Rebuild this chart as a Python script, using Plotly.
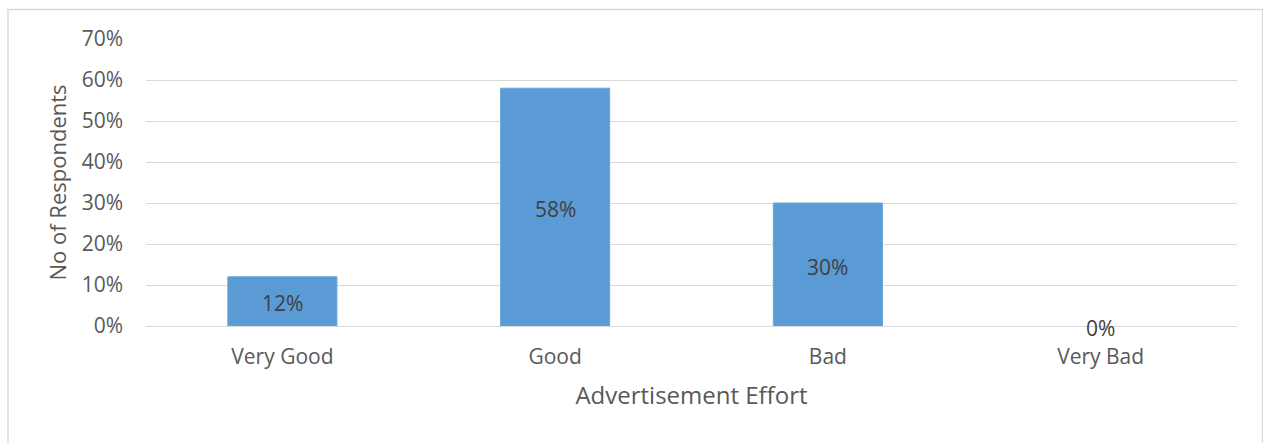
import plotly.graph_objects as go

categories = ["Very Good", "Good", "Bad", "Very Bad"]
shares = [0.12, 0.58, 0.30, 0.0]
labels = ["12%", "58%", "30%", "0%"]

BAR = "#5B9BD5"
GRID = "#D9D9D9"
TICK = "#595959"
FONT = "'Open Sans', Calibri, sans-serif"

fig = go.Figure()
fig.add_trace(go.Bar(
    x=categories, y=shares, width=0.4,
    marker=dict(color=BAR, line=dict(color="#6AA5DA", width=[1 if v > 0 else 0 for v in shares])),
    hoverinfo="skip", showlegend=False,
))

# value labels centred on each bar (zero bars sit on the baseline)
for cat, v, lab in zip(categories, shares, labels):
    fig.add_annotation(
        x=cat, y=v / 2, text=lab, showarrow=False, yshift=-2,
        font=dict(family=FONT, size=21, color="#404040"),
    )

fig.update_layout(
    width=1263, height=443,
    margin=dict(l=146, r=26, t=39, b=116.5),
    paper_bgcolor="white", plot_bgcolor="white",
    font=dict(family=FONT, size=21, color=TICK),
    xaxis=dict(
        title=dict(text="Advertisement Effort", font=dict(size=24, color=TICK), standoff=18),
        showgrid=False, showline=False, zeroline=False, ticks="",
        ticklabelstandoff=16,
    ),
    yaxis=dict(
        title=dict(text="No of Respondents", font=dict(size=22, color=TICK), standoff=8),
        range=[0, 0.70], dtick=0.10, tickformat=".0%",
        showgrid=True, gridcolor=GRID, gridwidth=1,
        zeroline=True, zerolinecolor=GRID, zerolinewidth=1,
        showline=False, ticks="", ticklabelstandoff=22,
    ),
    shapes=[dict(
        type="rect", xref="paper", yref="paper",
        x0=-0.1265, x1=1.0234, y0=-0.5, y1=1.1026,
        line=dict(color=GRID, width=1.5), fillcolor="rgba(0,0,0,0)", layer="below",
    )],
)

fig.write_html("out.html")
